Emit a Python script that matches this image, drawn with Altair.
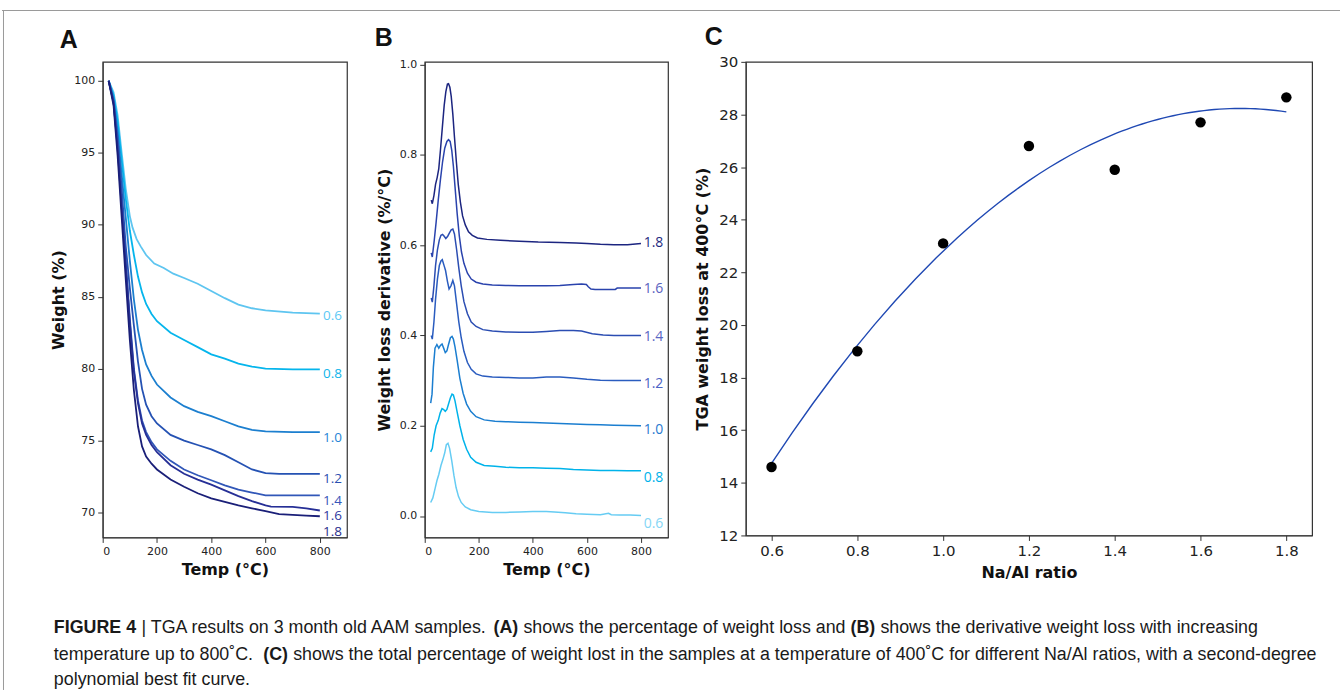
import altair as alt
import pandas as pd

# ---------------- data: panel A (TGA weight %) ----------------
ratios = ["0.6", "0.8", "1.0", "1.2", "1.4", "1.6", "1.8"]

a_t_06 = [22, 40, 55, 70, 85, 100, 110, 125, 140, 160, 190, 225, 260, 300, 350, 400, 450, 500, 550, 600, 700, 800]
a_w_06 = [100, 99.2, 97.6, 95.0, 92.5, 90.6, 89.8, 89.0, 88.5, 87.9, 87.3, 87.0, 86.6, 86.3, 85.9, 85.4, 84.9, 84.45, 84.2, 84.05, 83.9, 83.83]
a_t_08 = [22, 40, 55, 70, 85, 100, 115, 130, 145, 160, 180, 200, 250, 300, 350, 400, 450, 500, 550, 600, 700, 800]
a_w_08 = [100, 99.0, 97.2, 94.5, 91.8, 89.6, 87.9, 86.4, 85.3, 84.5, 83.8, 83.3, 82.5, 82.0, 81.5, 81.0, 80.7, 80.35, 80.15, 80.0, 79.95, 79.95]
a_t_10 = [22, 40, 55, 70, 85, 100, 115, 130, 145, 160, 180, 200, 250, 300, 350, 400, 450, 500, 550, 600, 700, 800]
a_w_10 = [100, 98.8, 96.5, 93.5, 90.5, 87.5, 84.8, 82.7, 81.3, 80.3, 79.5, 78.9, 78.0, 77.4, 77.0, 76.7, 76.35, 76.0, 75.75, 75.65, 75.6, 75.6]
a_t_12 = [22, 40, 55, 70, 85, 100, 115, 130, 145, 160, 180, 200, 250, 300, 350, 400, 450, 500, 550, 600, 650, 800]
a_w_12 = [100, 98.6, 96.0, 92.5, 88.5, 85.6, 83.0, 80.5, 78.6, 77.5, 76.7, 76.2, 75.4, 75.0, 74.7, 74.4, 74.0, 73.5, 73.0, 72.75, 72.7, 72.7]
a_t_14 = [22, 40, 55, 70, 85, 100, 115, 130, 145, 160, 180, 200, 250, 300, 350, 400, 450, 500, 550, 600, 700, 800]
a_w_14 = [100, 98.5, 95.5, 91.5, 87.5, 83.5, 80.0, 77.8, 76.4, 75.6, 74.9, 74.4, 73.6, 73.0, 72.6, 72.25, 71.9, 71.6, 71.4, 71.2, 71.2, 71.2]
a_t_16 = [22, 40, 55, 70, 85, 100, 115, 130, 145, 160, 180, 200, 250, 300, 350, 400, 450, 500, 550, 600, 620, 700, 750, 800]
a_w_16 = [100, 98.5, 95.3, 91.2, 87.2, 83.2, 79.8, 77.6, 76.2, 75.4, 74.7, 74.2, 73.3, 72.7, 72.3, 71.95, 71.55, 71.15, 70.8, 70.5, 70.42, 70.4, 70.3, 70.15]
a_t_18 = [22, 40, 55, 70, 85, 100, 115, 130, 145, 160, 180, 200, 250, 300, 350, 400, 450, 500, 550, 600, 650, 700, 750, 800]
a_w_18 = [100, 98.3, 94.8, 90.5, 86.2, 82.0, 78.5, 76.0, 74.6, 73.9, 73.4, 73.0, 72.3, 71.8, 71.35, 71.0, 70.75, 70.5, 70.3, 70.1, 69.9, 69.85, 69.8, 69.75]

a_line_colors = ["#5ec5f0", "#05b5ec", "#1c7fcf", "#2552b3", "#3157b8", "#262f96", "#1a1f78"]
a_label_colors = ["#5cc8f5", "#10b4ea", "#2585d6", "#2a4fb0", "#3656b8", "#3038a0", "#2a2f8c"]
a_label_y = [83.67, 79.64, 75.22, 72.32, 70.82, 69.74, 68.66]

# ---------------- data: panel B (derivative, offset curves) ----------------
b_t_06 = [22, 30, 38, 45, 52, 60, 67, 74, 80, 86, 92, 100, 108, 116, 125, 135, 150, 170, 200, 250, 300, 350, 400, 450, 480, 520, 560, 600, 650, 680, 690, 720, 760, 800]
b_v_06 = [0.030, 0.040, 0.060, 0.078, 0.092, 0.112, 0.125, 0.140, 0.158, 0.161, 0.150, 0.122, 0.090, 0.063, 0.043, 0.030, 0.020, 0.014, 0.010, 0.008, 0.008, 0.009, 0.010, 0.010, 0.009, 0.007, 0.005, 0.004, 0.003, 0.006, 0.003, 0.002, 0.002, 0.001]
b_t_08 = [22, 28, 35, 42, 50, 57, 64, 70, 76, 82, 88, 95, 101, 106, 112, 120, 130, 142, 155, 170, 190, 220, 260, 300, 350, 400, 450, 500, 550, 600, 650, 700, 750, 800]
b_v_08 = [0.142, 0.150, 0.180, 0.200, 0.212, 0.228, 0.238, 0.236, 0.232, 0.236, 0.248, 0.262, 0.270, 0.268, 0.255, 0.230, 0.200, 0.170, 0.148, 0.130, 0.119, 0.112, 0.110, 0.108, 0.107, 0.107, 0.106, 0.105, 0.103, 0.102, 0.101, 0.101, 0.100, 0.100]
b_t_10 = [22, 27, 32, 38, 45, 52, 58, 64, 70, 76, 82, 88, 95, 101, 106, 112, 120, 130, 142, 155, 170, 190, 220, 260, 300, 350, 400, 450, 500, 550, 600, 650, 700, 800]
b_v_10 = [0.250, 0.270, 0.330, 0.372, 0.380, 0.372, 0.378, 0.381, 0.372, 0.362, 0.366, 0.380, 0.395, 0.398, 0.392, 0.375, 0.345, 0.305, 0.272, 0.248, 0.232, 0.220, 0.213, 0.210, 0.209, 0.208, 0.207, 0.206, 0.205, 0.204, 0.203, 0.202, 0.201, 0.200]
b_t_12 = [24, 28, 34, 40, 47, 54, 60, 65, 71, 77, 84, 90, 97, 104, 110, 118, 126, 135, 145, 158, 172, 190, 215, 250, 300, 350, 400, 450, 500, 550, 600, 650, 700, 800]
b_v_12 = [0.400, 0.392, 0.430, 0.480, 0.525, 0.555, 0.565, 0.568, 0.556, 0.544, 0.520, 0.503, 0.510, 0.522, 0.510, 0.470, 0.430, 0.395, 0.365, 0.340, 0.325, 0.315, 0.310, 0.308, 0.307, 0.306, 0.306, 0.308, 0.308, 0.306, 0.303, 0.301, 0.300, 0.300]
b_t_14 = [24, 28, 34, 40, 47, 54, 60, 66, 72, 78, 85, 92, 98, 104, 110, 118, 126, 135, 145, 158, 172, 190, 215, 250, 300, 350, 400, 450, 500, 550, 580, 620, 660, 700, 800]
b_v_14 = [0.483, 0.474, 0.510, 0.555, 0.590, 0.612, 0.622, 0.624, 0.620, 0.615, 0.620, 0.628, 0.634, 0.636, 0.625, 0.590, 0.550, 0.510, 0.475, 0.448, 0.430, 0.420, 0.413, 0.410, 0.408, 0.407, 0.407, 0.409, 0.411, 0.411, 0.410, 0.404, 0.401, 0.400, 0.400]
b_t_16 = [24, 28, 35, 42, 50, 58, 66, 74, 82, 88, 94, 100, 106, 112, 120, 128, 136, 145, 158, 172, 190, 215, 250, 300, 350, 400, 450, 500, 550, 580, 598, 605, 615, 630, 680, 705, 712, 750, 800]
b_v_16 = [0.583, 0.574, 0.610, 0.650, 0.700, 0.745, 0.785, 0.815, 0.830, 0.834, 0.830, 0.810, 0.775, 0.730, 0.670, 0.620, 0.585, 0.560, 0.538, 0.525, 0.518, 0.514, 0.512, 0.511, 0.510, 0.510, 0.510, 0.511, 0.513, 0.514, 0.513, 0.508, 0.503, 0.502, 0.502, 0.502, 0.505, 0.505, 0.505]
b_t_18 = [24, 28, 34, 40, 46, 52, 58, 65, 72, 78, 84, 88, 93, 98, 104, 110, 117, 124, 132, 140, 150, 162, 176, 195, 230, 280, 350, 420, 500, 560, 600, 650, 700, 750, 800]
b_v_18 = [0.700, 0.692, 0.710, 0.735, 0.750, 0.770, 0.810, 0.860, 0.910, 0.940, 0.957, 0.958, 0.950, 0.930, 0.890, 0.840, 0.785, 0.735, 0.695, 0.665, 0.645, 0.630, 0.622, 0.616, 0.613, 0.611, 0.609, 0.607, 0.606, 0.605, 0.604, 0.602, 0.601, 0.601, 0.604]

b_line_colors = ["#66ccf3", "#00b3ea", "#1b7ed0", "#2a5cbf", "#2b4db2", "#2a43ad", "#1c2580"]
b_label_colors = ["#84d6f6", "#00b2ea", "#2a7ad0", "#4a62c4", "#5a66c4", "#5a62c0", "#1f2a80"]
b_label_y = [-0.017, 0.085, 0.191, 0.293, 0.397, 0.502, 0.606]

# ---------------- data: panel C ----------------
c_ratio = [0.6, 0.8, 1.0, 1.2, 1.4, 1.6, 1.8]
c_loss = [14.6, 19.0, 23.1, 26.8, 25.9, 27.7, 28.65]

# ---------------- caption ----------------
cap_text = ["FIGURE 4", "| TGA results on 3 month old AAM samples.", "(A)", "shows the percentage of weight loss and",
            "(B)", "shows the derivative weight loss with increasing",
            "temperature up to 800\u02daC.", "(C)",
            "shows the total percentage of weight lost in the samples at a temperature of 400\u02daC for different Na/Al ratios, with a second-degree",
            "polynomial best fit curve."]
cap_bold = [True, False, True, False, True, False, False, True, False, False]
cap_x = [52, 140, 493, 523, 851, 881, 52, 262, 292, 52]
cap_line = [0, 0, 0, 0, 0, 0, 1, 1, 1, 2]
cap_line_y = [635, 662, 687]

# ---------------- build tables ----------------
a_t = [a_t_06, a_t_08, a_t_10, a_t_12, a_t_14, a_t_16, a_t_18]
a_w = [a_w_06, a_w_08, a_w_10, a_w_12, a_w_14, a_w_16, a_w_18]
b_t = [b_t_06, b_t_08, b_t_10, b_t_12, b_t_14, b_t_16, b_t_18]
b_v = [b_v_06, b_v_08, b_v_10, b_v_12, b_v_14, b_v_16, b_v_18]

rows_a = []
for r, ts, ws, c in zip(ratios, a_t, a_w, a_line_colors):
    for t, w in zip(ts, ws):
        rows_a.append({"ratio": r, "T": t, "W": w, "col": c})
df_a = pd.DataFrame(rows_a)
df_a_lab = pd.DataFrame({"ratio": ratios, "T": [812] * 7, "W": a_label_y, "col": a_label_colors})

rows_b = []
for r, ts, vs, c in zip(ratios, b_t, b_v, b_line_colors):
    for t, v in zip(ts, vs):
        rows_b.append({"ratio": r, "T": t, "V": v, "col": c})
df_b = pd.DataFrame(rows_b)
df_b_lab = pd.DataFrame({"ratio": ratios, "T": [810] * 7, "V": b_label_y, "col": b_label_colors})

df_c = pd.DataFrame({"r": c_ratio, "loss": c_loss})
one = pd.DataFrame({"k": [0]})

# layout (pixels) of plot areas
A_LEFT, TOP = 101, 62
A_W, B_W, C_W = 245, 244, 568
A_H, B_H, C_H = 477, 477, 475
SPACING = 78

tick_font = "DejaVu Sans"
label_font = "Open Sans"
cap_font = "Liberation Sans"
cap_size = 17.9

# ---------------- panel A ----------------
xA = alt.X("T:Q", scale=alt.Scale(domain=[0, 900], nice=False),
           axis=alt.Axis(values=[0, 200, 400, 600, 800], format="d", title="Temp (\u00b0C)",
                         labelFontSize=11, titleFontSize=16, titlePadding=5))
yA = alt.Y("W:Q", scale=alt.Scale(domain=[68.28, 101.317], nice=False, zero=False),
           axis=alt.Axis(values=[70, 75, 80, 85, 90, 95, 100], format="d", title="Weight (%)",
                         labelFontSize=11, titleFontSize=16, titlePadding=7))
lines_a = alt.Chart(df_a).mark_line(strokeWidth=1.8).encode(
    x=xA, y=yA, color=alt.Color("col:N", scale=None), detail="ratio:N")
labels_a = alt.Chart(df_a_lab).mark_text(align="left", baseline="middle", font=label_font, fontSize=13.5).encode(
    x="T:Q", y="W:Q", text="ratio:N", color=alt.Color("col:N", scale=None))

deco = []
deco.append(alt.Chart(one).mark_text(text="A", font="Liberation Sans", fontWeight="bold", fontSize=25,
                                     align="center", baseline="middle", color="#111").encode(
    x=alt.value(67 - A_LEFT), y=alt.value(40 - TOP)))
# figure frame lines
deco.append(alt.Chart(one).mark_rule(color="#9a9a9a", strokeWidth=1).encode(
    x=alt.value(0 - A_LEFT), x2=alt.value(1342 - A_LEFT), y=alt.value(10.5 - TOP)))
deco.append(alt.Chart(one).mark_rule(color="#9a9a9a", strokeWidth=1).encode(
    x=alt.value(1.5 - A_LEFT), y=alt.value(10.5 - TOP), y2=alt.value(692 - TOP)))
for txt, b, x0, ln in zip(cap_text, cap_bold, cap_x, cap_line):
    deco.append(alt.Chart(pd.DataFrame({"t": [txt]})).mark_text(
        align="left", baseline="alphabetic", font=cap_font,
        fontSize=cap_size, fontWeight="bold" if b else "normal", color="#1a1a1a").encode(
        x=alt.value(x0 - A_LEFT), y=alt.value(cap_line_y[ln] - TOP), text="t:N"))

chart_a = alt.layer(lines_a, labels_a, *deco).properties(width=A_W, height=A_H)

# ---------------- panel B ----------------
B_LEFT = A_LEFT + A_W + SPACING
xB = alt.X("T:Q", scale=alt.Scale(domain=[0, 900], nice=False),
           axis=alt.Axis(values=[0, 200, 400, 600, 800], format="d", title="Temp (\u00b0C)",
                         labelFontSize=11, titleFontSize=16, titlePadding=5))
yB = alt.Y("V:Q", scale=alt.Scale(domain=[-0.0475, 1.0064], nice=False, zero=False),
           axis=alt.Axis(values=[0, 0.2, 0.4, 0.6, 0.8, 1.0], format=".1f", title="Weight loss derivative (%/\u00b0C)",
                         labelFontSize=11, titleFontSize=16, titlePadding=7))
lines_b = alt.Chart(df_b).mark_line(strokeWidth=1.5).encode(
    x=xB, y=yB, color=alt.Color("col:N", scale=None), detail="ratio:N")
labels_b = alt.Chart(df_b_lab).mark_text(align="left", baseline="middle", font=label_font, fontSize=14).encode(
    x="T:Q", y="V:Q", text="ratio:N", color=alt.Color("col:N", scale=None))
letter_b = alt.Chart(one).mark_text(text="B", font="Liberation Sans", fontWeight="bold", fontSize=25,
                                    align="center", baseline="middle", color="#111").encode(
    x=alt.value(383 - B_LEFT), y=alt.value(38 - TOP))
chart_b = alt.layer(lines_b, labels_b, letter_b).properties(width=B_W, height=B_H)

# ---------------- panel C ----------------
C_LEFT = B_LEFT + B_W + SPACING
xC = alt.X("r:Q", scale=alt.Scale(domain=[0.54, 1.86], nice=False, zero=False),
           axis=alt.Axis(values=c_ratio, format=".1f", title="Na/Al ratio",
                         labelFontSize=15, titleFontSize=16, titlePadding=6))
yC = alt.Y("loss:Q", scale=alt.Scale(domain=[12, 30], nice=False, zero=False),
           axis=alt.Axis(values=[12, 14, 16, 18, 20, 22, 24, 26, 28, 30], format="d",
                         title="TGA weight loss at 400\u00b0C (%)",
                         labelFontSize=15, titleFontSize=16, titlePadding=8))
fit_c = alt.Chart(df_c).transform_regression("r", "loss", method="poly", order=2, extent=[0.6, 1.8]).mark_line(
    color="#1f48b3", strokeWidth=1.4).encode(x=xC, y=yC)
pts_c = alt.Chart(df_c).mark_circle(size=110, color="#000000", opacity=1).encode(x=xC, y=yC)
letter_c = alt.Chart(one).mark_text(text="C", font="Liberation Sans", fontWeight="bold", fontSize=25,
                                    align="center", baseline="middle", color="#111").encode(
    x=alt.value(714 - C_LEFT), y=alt.value(37 - TOP))
chart_c = alt.layer(fit_c, pts_c, letter_c).properties(width=C_W, height=C_H)

chart = alt.hconcat(chart_a, chart_b, chart_c, spacing=SPACING, bounds="flush").properties(
    padding={"left": 0, "top": 8, "right": 0, "bottom": 0}, background="white"
).configure_view(stroke="#333333", strokeWidth=1.2).configure_axis(
    grid=False, domainColor="#333333", tickColor="#333333", tickSize=5, labelPadding=3,
    labelColor="#222222", titleColor="#111111", labelFont=tick_font, titleFont=tick_font,
    titleFontWeight="bold"
)

chart.save("out.html", embed_options={"renderer": "svg", "actions": False})
